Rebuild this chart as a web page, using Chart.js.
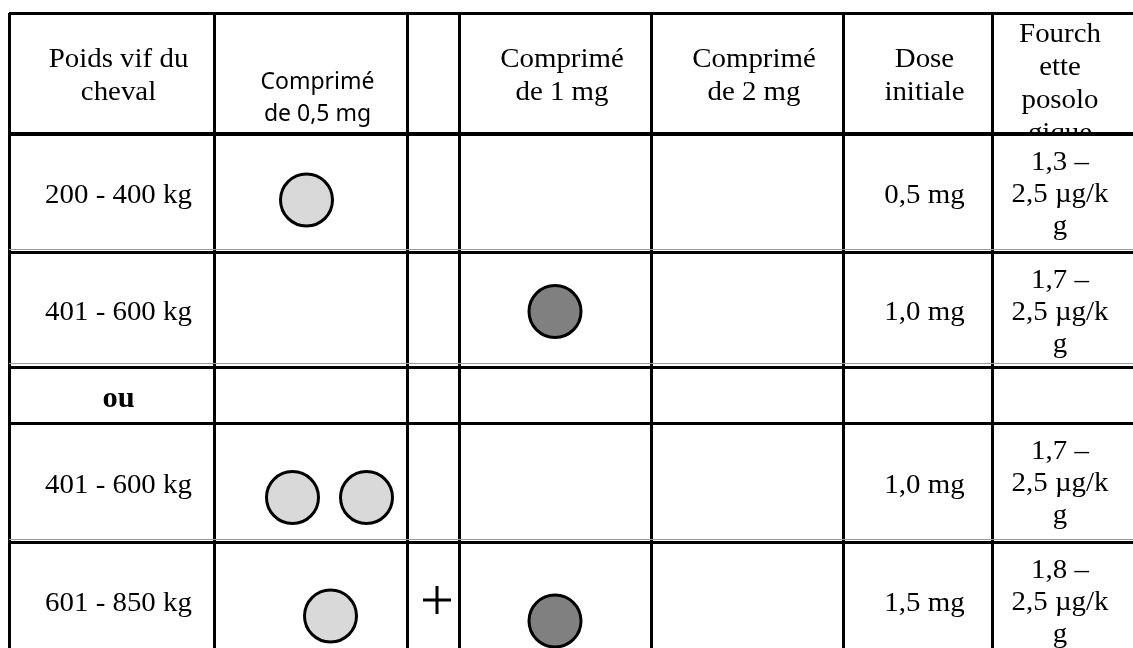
<!DOCTYPE html>
<html>
<head>
<meta charset="utf-8">
<script src="https://cdn.jsdelivr.net/npm/chart.js@4.4.1/dist/chart.umd.min.js"></script>
<style>
html, body { margin: 0; padding: 0; background: #fff; overflow: hidden; }
#wrap { width: 1133px; height: 648px; }
</style>
</head>
<body>
<div id="wrap"><canvas id="dose-table"></canvas></div>
<script>
// table contents
var headerCells = [['Poids vif du', 'cheval'], ['Comprimé', 'de 0,5 mg'], [], ['Comprimé', 'de 1 mg'], ['Comprimé', 'de 2 mg'], ['Dose', 'initiale'], ['Fourch', 'ette', 'posolo', 'gique']];
var weightLabels = ['200 - 400 kg', '401 - 600 kg', 'ou', '401 - 600 kg', '601 - 850 kg'];
var tablets05 = [1, 0, 0, 2, 1];
var tablets1 = [0, 1, 0, 0, 1];
var tablets2 = [0, 0, 0, 0, 0];
var plusSigns = [0, 0, 0, 0, 1];
var initialDose = ['0,5 mg', '1,0 mg', '', '1,0 mg', '1,5 mg'];
var rangeLines = [['1,3 –', '2,5 µg/k', 'g'], ['1,7 –', '2,5 µg/k', 'g'], [], ['1,7 –', '2,5 µg/k', 'g'], ['1,8 –', '2,5 µg/k', 'g']];

// layout of the grid (pixels of the page)
var colEdges = [9, 214, 407, 459, 651, 843, 992, 1114];
var rowEdges = [13, 134, 252, 367, 423, 542, 660];
var shiftX05 = [-4, 0, 0, 19, 20];
var shiftY05 = [7, 0, 0, 15, 15];
var shiftY1 = [0, 2, 0, 0, 20];
var pillGap = 74;

var SERIF = '"Liberation Serif", "Times New Roman", serif';
var SANS = '"Noto Sans", "Liberation Sans", sans-serif';

function $each(arr, fn) { for (var i = 0; i < arr.length; i++) fn(arr[i], i); }
function colMid(c) { return (colEdges[c] + colEdges[c + 1]) / 2; }
function rowMid(r) { return (rowEdges[r] + rowEdges[r + 1]) / 2; }

function pillPoints(counts, col, dx, dy) {
    var pts = [];
    $each(counts, function (n, i) {
        for (var k = 0; k < n; k++) {
            pts.push({
                x: colMid(col) + (dx ? dx[i] : 0) + (k - (n - 1) / 2) * pillGap,
                y: rowMid(i + 1) + (dy ? dy[i] : 0)
            });
        }
    });
    return pts;
}

var tableText = {
    id: 'tableText',
    afterDatasetsDraw: function (chart) {
        var ctx = chart.ctx;
        var xs = chart.scales.x, ys = chart.scales.y;

        // stretch: the serif text of the original is a bit wider than Liberation Serif
        function cell(col, row, lines, font, firstBase, step, stretch) {
            var x0 = xs.getPixelForValue(colEdges[col]);
            var x1 = xs.getPixelForValue(colEdges[col + 1]);
            var y0 = ys.getPixelForValue(rowEdges[row]);
            var y1 = ys.getPixelForValue(rowEdges[row + 1]);
            ctx.save();
            ctx.beginPath();
            ctx.rect(x0, y0, x1 - x0 + 40, y1 - y0 - 2);
            ctx.clip();
            ctx.font = font;
            ctx.fillStyle = '#000';
            ctx.textAlign = 'center';
            ctx.textBaseline = 'alphabetic';
            $each(lines, function (t, i) {
                ctx.save();
                ctx.translate((x0 + x1) / 2 + 7, y0 + firstBase + i * step);
                ctx.scale(stretch || 1, 1);
                ctx.fillText(t, 0, 0);
                ctx.restore();
            });
            ctx.restore();
        }

        // header row
        $each(headerCells, function (lines, c) {
            if (c === 1) cell(c, 0, lines, '23px ' + SANS, 76, 32);
            else if (lines.length > 2) cell(c, 0, lines, '27px ' + SERIF, 29, 33, 1.07);
            else cell(c, 0, lines, '27px ' + SERIF, 54, 33, 1.07);
        });

        // body rows
        $each(weightLabels, function (w, i) {
            var r = i + 1;
            var mid = rowMid(r) - rowEdges[r];
            if (w === 'ou') cell(0, r, [w], 'bold 29px ' + SERIF, mid + 12, 0, 1.05);
            else cell(0, r, [w], '27px ' + SERIF, mid + 10, 0, 1.07);
            if (initialDose[i]) cell(5, r, [initialDose[i]], '27px ' + SERIF, mid + 10, 0, 1.07);
            if (rangeLines[i].length) cell(6, r, rangeLines[i], '27px ' + SERIF, 36, 32, 1.07);
        });
    }
};

var pillStyle = { type: 'scatter', showLine: false, pointRadius: 26, pointHoverRadius: 26, pointBorderWidth: 3, pointBorderColor: '#000' };

var ctx = document.getElementById('dose-table');
var DoseTable = new Chart(ctx, {
    type: 'scatter',
    data: {
        datasets: [
            Object.assign({ label: 'Comprimé de 0,5 mg', data: pillPoints(tablets05, 1, shiftX05, shiftY05), pointBackgroundColor: '#d9d9d9' }, pillStyle),
            Object.assign({ label: 'Comprimé de 1 mg', data: pillPoints(tablets1, 3, null, shiftY1), pointBackgroundColor: '#808080' }, pillStyle),
            Object.assign({ label: 'Comprimé de 2 mg', data: pillPoints(tablets2, 4), pointBackgroundColor: '#404040' }, pillStyle),
            {
                label: '+',
                data: pillPoints(plusSigns, 2, [0, 0, 0, 0, 4], [0, 0, 0, 0, -1]),
                pointStyle: 'cross',
                pointRadius: 14,
                pointBorderWidth: 3,
                pointBorderColor: '#000',
                showLine: false
            }
        ]
    },
    options: {
        responsive: true,
        maintainAspectRatio: false,
        animation: false,
        events: [],
        layout: { autoPadding: false, padding: { left: 9, top: 13, right: 0, bottom: 0 } },
        plugins: { legend: { display: false }, tooltip: { enabled: false } },
        scales: {
            x: {
                type: 'linear',
                min: 9,
                max: 1133,
                ticks: { display: false },
                border: { display: false },
                grid: { drawTicks: false, color: '#000', lineWidth: 3 },
                afterBuildTicks: function (axis) {
                    axis.ticks = colEdges.slice(0, -1).map(function (v) { return { value: v }; });
                }
            },
            y: {
                type: 'linear',
                reverse: true,
                min: 13,
                max: 648,
                ticks: { display: false },
                border: { display: false },
                grid: {
                    drawTicks: false,
                    color: '#000',
                    lineWidth: function (c) { return c.index === 1 ? 4 : 3; }
                },
                afterBuildTicks: function (axis) {
                    axis.ticks = rowEdges.slice(0, -1).map(function (v) { return { value: v }; });
                }
            },
            yGray: {
                type: 'linear',
                position: 'left',
                reverse: true,
                min: 13,
                max: 648,
                ticks: { display: false },
                border: { display: false },
                grid: { drawTicks: false, color: '#9a9a9a', lineWidth: 1 },
                afterBuildTicks: function (axis) {
                    axis.ticks = [rowEdges[2], rowEdges[3], rowEdges[5]].map(function (v) { return { value: v - 3 }; });
                }
            }
        }
    },
    plugins: [tableText]
});
</script>
</body>
</html>
